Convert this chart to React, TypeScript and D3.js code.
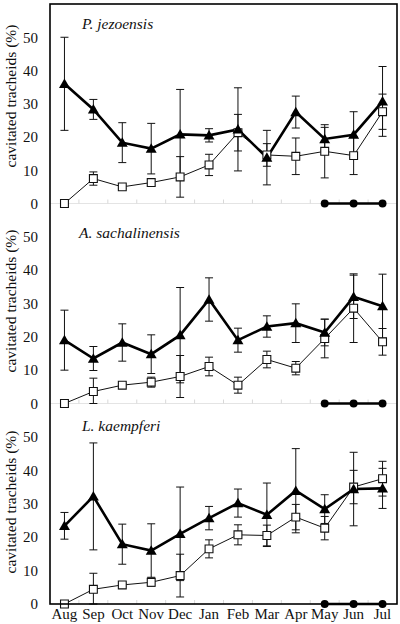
import React from "react";
import * as d3 from "d3";

const months = ["Aug", "Sep", "Oct", "Nov", "Dec", "Jan", "Feb", "Mar", "Apr", "May", "Jun", "Jul"];
const panelTitles = ["P. jezoensis", "A. sachalinensis", "L. kaempferi"];
const yTicks = [0, 10, 20, 30, 40, 50];
const frostMonths = ["May", "Jun", "Jul"];

const triMean = [
  [36.0, 28.3, 18.3, 16.5, 20.8, 20.5, 22.3, 13.8, 27.5, 19.4, 20.7, 30.7],
  [19.0, 13.5, 18.3, 14.8, 20.5, 31.2, 19.0, 23.1, 24.1, 21.3, 32.0, 29.2],
  [23.4, 32.2, 17.9, 16.0, 21.0, 25.7, 30.2, 26.7, 33.9, 28.4, 34.4, 34.6],
];
const triSd = [
  [14, 3, 6, 7.6, 13.5, 2, 12.5, 8.2, 4.8, 3.5, 6.9, 10.5],
  [9, 3.6, 5.6, 5.8, 14.3, 6.5, 3.6, 3.2, 5.8, 4, 6.5, 9.6],
  [4, 16, 6, 8, 14, 3.5, 4.2, 9.5, 12.6, 4.3, 11, 6],
];
const sqMean = [
  [0, 7.5, 5.0, 6.3, 8.0, 11.6, 21.3, 14.6, 14.2, 15.7, 14.4, 27.6],
  [0, 3.6, 5.5, 6.4, 8.1, 11.1, 5.5, 13.2, 10.6, 19.5, 28.6, 18.5],
  [0, 4.4, 5.7, 6.5, 8.5, 16.5, 20.7, 20.5, 26.0, 22.7, 35.0, 37.5],
];
const sqSd = [
  [0, 2, 0.5, 1, 6.1, 3.2, 5.5, 3.4, 5.5, 8, 5.7, 5.3],
  [0, 4, 0.5, 1.5, 6.3, 2.8, 2.4, 2.5, 2, 5.8, 10.3, 4],
  [0, 4.8, 0.5, 1.2, 6.4, 2.7, 3, 3.1, 3.8, 3.5, 5, 5.2],
];

const W = 400, H = 624;
const left = 50, right = 397;
const panelEdges = [4, 203.5, 403.5, 604];
const labelCenters = [96, 301, 502];
const serif = '"Liberation Serif"';

export default function App() {
  const x = d3.scalePoint<string>().domain(months).range([left, right]).padding(0.5);
  const step = x.step();
  const line = (ys: d3.ScaleLinear<number, number>) =>
    d3.line<number>().x((_, i) => x(months[i]) as number).y((v) => ys(v));
  const tri = d3.symbol().type(d3.symbolTriangle).size(52)();
  const sq = d3.symbol().type(d3.symbolSquare).size(62)();
  const circ = d3.symbol().type(d3.symbolCircle).size(50)();
  const cap = 4;

  return (
    <svg width={W} height={H} style={{ position: "absolute", left: 0, top: 0, background: "#fff" }}>
      <g style={{ fontFamily: serif }} fill="#111">
        {panelTitles.map((title, p) => {
          const top = panelEdges[p];
          const bottom = panelEdges[p + 1];
          const y = d3.scaleLinear().domain([0, 60]).range([bottom, top]);
          const frostLine = d3
            .line<string>()
            .x((m) => x(m) as number)
            .y(() => y(0));
          return (
            <g key={p}>
              {p < 2 && <line x1={left} x2={right} y1={y(0)} y2={y(0)} stroke="#e4e4e4" strokeWidth={1} />}
              {months.slice(1).map((m) => (
                <line
                  key={m}
                  x1={(x(m) as number) - step / 2}
                  x2={(x(m) as number) - step / 2}
                  y1={y(0)}
                  y2={y(0) - 4}
                  stroke="#d8d8d8"
                  strokeWidth={1}
                />
              ))}
              {yTicks.map((t) => (
                <text key={t} x={38} y={y(t)} dy="0.35em" textAnchor="end" style={{ fontFamily: serif, fontSize: 15 }}>
                  {t}
                </text>
              ))}
              <text
                transform={`translate(16,${labelCenters[p]}) rotate(-90)`}
                textAnchor="middle"
                style={{ fontFamily: serif, fontSize: 15.5 }}
              >
                cavitated tracheids (%)
              </text>
              <text
                x={p === 1 ? 79 : 82}
                y={top + (p === 0 ? 25 : p === 1 ? 34 : 27)}
                style={{ fontFamily: serif, fontSize: 15.5, fontStyle: "italic" }}
              >
                {title}
              </text>
              {[
                { mean: sqMean[p], sd: sqSd[p] },
                { mean: triMean[p], sd: triSd[p] },
              ].map((s, si) => (
                <g key={si} stroke="#111" strokeWidth={1}>
                  {s.mean.map((v, i) => {
                    const sdv = s.sd[i];
                    if (!sdv) return null;
                    const cx = x(months[i]) as number;
                    const y1 = y(v + sdv), y2 = y(Math.max(0, v - sdv));
                    return (
                      <g key={i}>
                        <line x1={cx} x2={cx} y1={y1} y2={y2} />
                        <line x1={cx - cap} x2={cx + cap} y1={y1} y2={y1} />
                        <line x1={cx - cap} x2={cx + cap} y1={y2} y2={y2} />
                      </g>
                    );
                  })}
                </g>
              ))}
              <path d={line(y)(sqMean[p]) || ""} fill="none" stroke="#111" strokeWidth={1} />
              <path d={line(y)(triMean[p]) || ""} fill="none" stroke="#000" strokeWidth={2.6} />
              {sqMean[p].map((v, i) => (
                <path key={i} d={sq || ""} transform={`translate(${x(months[i])},${y(v)})`} fill="#fff" stroke="#111" strokeWidth={1.1} />
              ))}
              {triMean[p].map((v, i) => (
                <path key={i} d={tri || ""} transform={`translate(${x(months[i])},${y(v) + 1})`} fill="#000" />
              ))}
              <path d={frostLine(frostMonths) || ""} fill="none" stroke="#000" strokeWidth={2.6} />
              {frostMonths.map((m) => (
                <path key={m} d={circ || ""} transform={`translate(${x(m)},${y(0)})`} fill="#000" />
              ))}
            </g>
          );
        })}
        <rect x={left} y={panelEdges[0]} width={right - left} height={panelEdges[3] - panelEdges[0]} fill="none" stroke="#000" strokeWidth={1.6} />
        {months.map((m) => (
          <text key={m} x={x(m) as number} y={619} textAnchor="middle" style={{ fontFamily: serif, fontSize: 15 }}>
            {m}
          </text>
        ))}
      </g>
    </svg>
  );
}
